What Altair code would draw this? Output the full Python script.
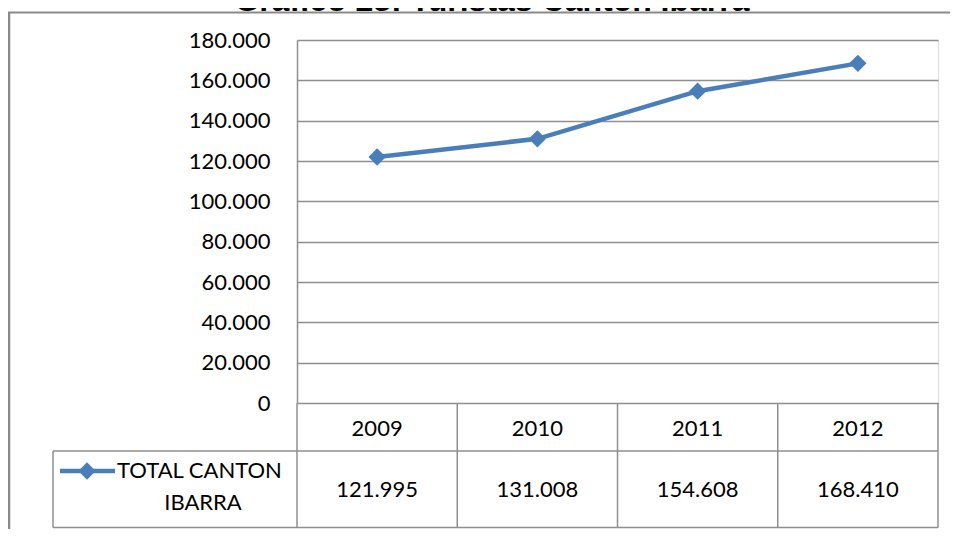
import altair as alt
import pandas as pd

# ---- data ----
YEARS = ["2009", "2010", "2011", "2012"]
VALUES = [121995, 131008, 154608, 168410]
SERIES_LABEL = ["TOTAL CANTON", "IBARRA"]
TITLE = "Gráfico 23: Turistas Cantón Ibarra"
Y_TICKS = [0, 20000, 40000, 60000, 80000, 100000, 120000, 140000, 160000, 180000]

BLUE = "#4A7EBB"
GRID = "#8f8f8f"
FRAME = "#8a8a8a"
FONT = "Lato"
FS = 22

W, H = 641, 363          # plot area
TABLE_MID = 411          # header / value row separator (plot coords)
TABLE_BOTTOM = 487.5
LEG_LEFT = -244

df = pd.DataFrame({"year": YEARS, "value": VALUES})
one = pd.DataFrame({"k": [0]})
fmt = "replace(format(datum.value, ',.0f'), ',', '.')"

x = alt.X("year:O", scale=alt.Scale(type="point", padding=0.5, domain=YEARS), axis=None)
y_scale = alt.Scale(domain=[0, 180000], nice=False, zero=True)

base = alt.Chart(df)

line = base.mark_line(color=BLUE, strokeWidth=4.5).encode(
    x=x,
    y=alt.Y(
        "value:Q",
        scale=y_scale,
        title=None,
        axis=alt.Axis(
            values=Y_TICKS,
            labelExpr=fmt,
            grid=True,
            gridColor=GRID,
            gridWidth=1.3,
            domain=True,
            domainColor=GRID,
            domainWidth=1.5,
            ticks=False,
            labelFont=FONT,
            labelFontSize=FS,
            labelColor="#000000",
            labelPadding=27,
        ),
    ),
)
points = base.mark_point(shape="diamond", filled=True, color=BLUE, size=300, opacity=1).encode(
    x=x, y=alt.Y("value:Q", scale=y_scale)
)

col_left = base.mark_rule(color=GRID, strokeWidth=1.5, xOffset=-80.125).encode(
    x=x, y=alt.value(H), y2=alt.value(TABLE_BOTTOM)
)
col_right = base.transform_filter(alt.datum.year == YEARS[-1]).mark_rule(
    color=GRID, strokeWidth=1.5, xOffset=80.125
).encode(x=x, y=alt.value(H), y2=alt.value(TABLE_BOTTOM))

one_chart = alt.Chart(one)
row_mid = one_chart.mark_rule(color=GRID, strokeWidth=1.5).encode(
    x=alt.value(LEG_LEFT), x2=alt.value(W), y=alt.value(TABLE_MID)
)
row_bottom = one_chart.mark_rule(color=GRID, strokeWidth=1.5).encode(
    x=alt.value(LEG_LEFT), x2=alt.value(W), y=alt.value(TABLE_BOTTOM)
)
leg_left = one_chart.mark_rule(color=GRID, strokeWidth=1.5).encode(
    x=alt.value(LEG_LEFT), y=alt.value(TABLE_MID), y2=alt.value(TABLE_BOTTOM)
)

year_text = base.mark_text(font=FONT, fontSize=FS, color="#000000", baseline="middle").encode(
    x=x, y=alt.value(389), text="year:N"
)
value_text = base.transform_calculate(label=fmt).mark_text(
    font=FONT, fontSize=FS, color="#000000", baseline="middle"
).encode(x=x, y=alt.value(450), text="label:N")

leg_line = one_chart.mark_rule(color=BLUE, strokeWidth=4.5).encode(
    x=alt.value(-237), x2=alt.value(-182), y=alt.value(431)
)
leg_pt = one_chart.mark_point(shape="diamond", filled=True, color=BLUE, size=300, opacity=1).encode(
    x=alt.value(-210), y=alt.value(431)
)
leg_t1 = alt.Chart(pd.DataFrame({"t": [SERIES_LABEL[0]]})).mark_text(
    font=FONT, fontSize=FS, color="#000000", align="left", baseline="middle"
).encode(x=alt.value(-180), y=alt.value(431), text="t:N")
leg_t2 = alt.Chart(pd.DataFrame({"t": [SERIES_LABEL[1]]})).mark_text(
    font=FONT, fontSize=FS, color="#000000", align="center", baseline="middle"
).encode(x=alt.value(-94), y=alt.value(463), text="t:N")

frame_top = one_chart.mark_rule(color=FRAME, strokeWidth=2).encode(
    x=alt.value(-289), x2=alt.value(653), y=alt.value(-27.5)
)
frame_left = one_chart.mark_rule(color=FRAME, strokeWidth=2.5).encode(
    x=alt.value(-288), y=alt.value(-27.5), y2=alt.value(500)
)
title = alt.Chart(pd.DataFrame({"t": [TITLE]})).mark_text(
    font="Liberation Sans", fontSize=32, fontWeight="bold", color="#000000",
    align="center", baseline="alphabetic"
).encode(x=alt.value(195), y=alt.value(-29.5), text="t:N")

chart = alt.layer(
    line, points, col_left, col_right, row_mid, row_bottom, leg_left,
    year_text, value_text, leg_line, leg_pt, leg_t1, leg_t2,
    frame_top, frame_left, title,
).properties(
    width=W,
    height=H,
    padding={"left": 289, "top": 32, "right": 12, "bottom": 126},
    autosize=alt.AutoSizeParams(type="none"),
).configure_view(stroke=None).configure(background="white")

chart.save("out.html", embed_options={"renderer": "svg", "actions": False})
